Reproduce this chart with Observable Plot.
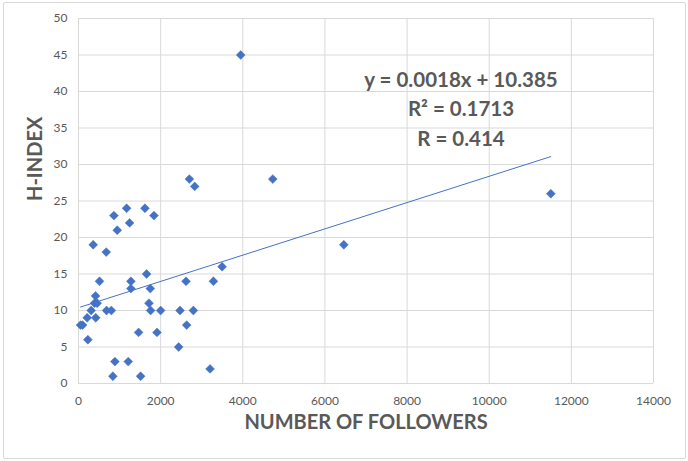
<!DOCTYPE html>
<html>
<head>
<meta charset="utf-8">
<script src="https://cdn.jsdelivr.net/npm/d3@7"></script>
<script src="https://cdn.jsdelivr.net/npm/@observablehq/plot@0.6"></script>
<style>
  body { margin: 0; background: #fff; }
  #wrap { position: relative; width: 688px; height: 461px; }
  #border { position: absolute; left: 3px; top: 2px; width: 683px; height: 457px; box-sizing: border-box; border: 1px solid #d9d9d9; border-radius: 2px; pointer-events: none; }
  #wrap svg { position: absolute; left: 0; top: 0; }
</style>
</head>
<body>
<div id="wrap"><div id="border"></div></div>
<script>
const followers = [50, 100, 228, 211, 420, 309, 390, 455, 415, 358, 675, 512, 683, 800, 862, 943, 1171, 1244, 1618, 1837, 1276, 1276, 1658, 1716, 1748, 1756, 2000, 2472, 2797, 2618, 3285, 3496, 2634, 1463, 1911, 2439, 886, 1211, 837, 1512, 3203, 2700, 2829, 3950, 4730, 6460, 11500];
const hIndex    = [8, 8, 6, 9, 9, 10, 11, 11, 12, 19, 18, 14, 10, 10, 23, 21, 24, 22, 24, 23, 14, 13, 15, 11, 13, 10, 10, 10, 10, 14, 14, 16, 8, 7, 7, 5, 3, 3, 1, 1, 2, 28, 27, 45, 28, 19, 26];
const xTicks = [0, 2000, 4000, 6000, 8000, 10000, 12000, 14000];
const yTicks = [0, 5, 10, 15, 20, 25, 30, 35, 40, 45, 50];
const slope = 0.0018;
const intercept = 10.385;
const equationLines = ["y = 0.0018x + 10.385", "R² = 0.1713", "R = 0.414"];
const xTitle = "NUMBER OF FOLLOWERS";
const yTitle = "H-INDEX";

const points = followers.map((f, i) => ({followers: f, h: hIndex[i]}));
const trend = d3.extent(followers).map(x => ({followers: x, h: slope * x + intercept}));

const gray = "#595959";
const blue = "#4472C4";

const chart = Plot.plot({
  width: 688,
  height: 461,
  marginLeft: 78,
  marginRight: 35,
  marginTop: 18,
  marginBottom: 78,
  style: {fontFamily: "Lato, 'Open Sans', sans-serif", color: gray, background: "transparent", overflow: "visible"},
  x: {domain: [0, 14000]},
  y: {domain: [0, 50]},
  marks: [
    Plot.gridX(xTicks, {stroke: "#d9d9d9", strokeOpacity: 1}),
    Plot.gridY(yTicks, {stroke: "#d9d9d9", strokeOpacity: 1}),
    Plot.axisX(xTicks, {tickSize: 0, tickPadding: 13, fontSize: 12, letterSpacing: 1.6, fill: gray, tickFormat: d3.format("d"), label: null}),
    Plot.axisY(yTicks, {tickSize: 0, tickPadding: 11, fontSize: 12, letterSpacing: 1, fill: gray, tickFormat: d3.format("d"), label: null}),
    Plot.line(trend, {x: "followers", y: "h", stroke: blue, strokeWidth: 1}),
    Plot.dot(points, {x: "followers", y: "h", symbol: "diamond2", r: 4, fill: blue, stroke: blue, strokeWidth: 0.5}),
    Plot.text([equationLines.join("\n")], {frameAnchor: "top", dx: 95, dy: 47, lineAnchor: "top", lineHeight: 1.45, fontSize: 20.5, fontWeight: "bold", fill: gray}),
    Plot.text([xTitle], {frameAnchor: "bottom", dy: 45, fontSize: 20, fontWeight: "bold", fill: gray}),
    Plot.text([yTitle], {frameAnchor: "left", dx: -43, rotate: -90, fontSize: 20, fontWeight: "bold", fill: gray})
  ]
});
document.getElementById("wrap").prepend(chart);
</script>
</body>
</html>
